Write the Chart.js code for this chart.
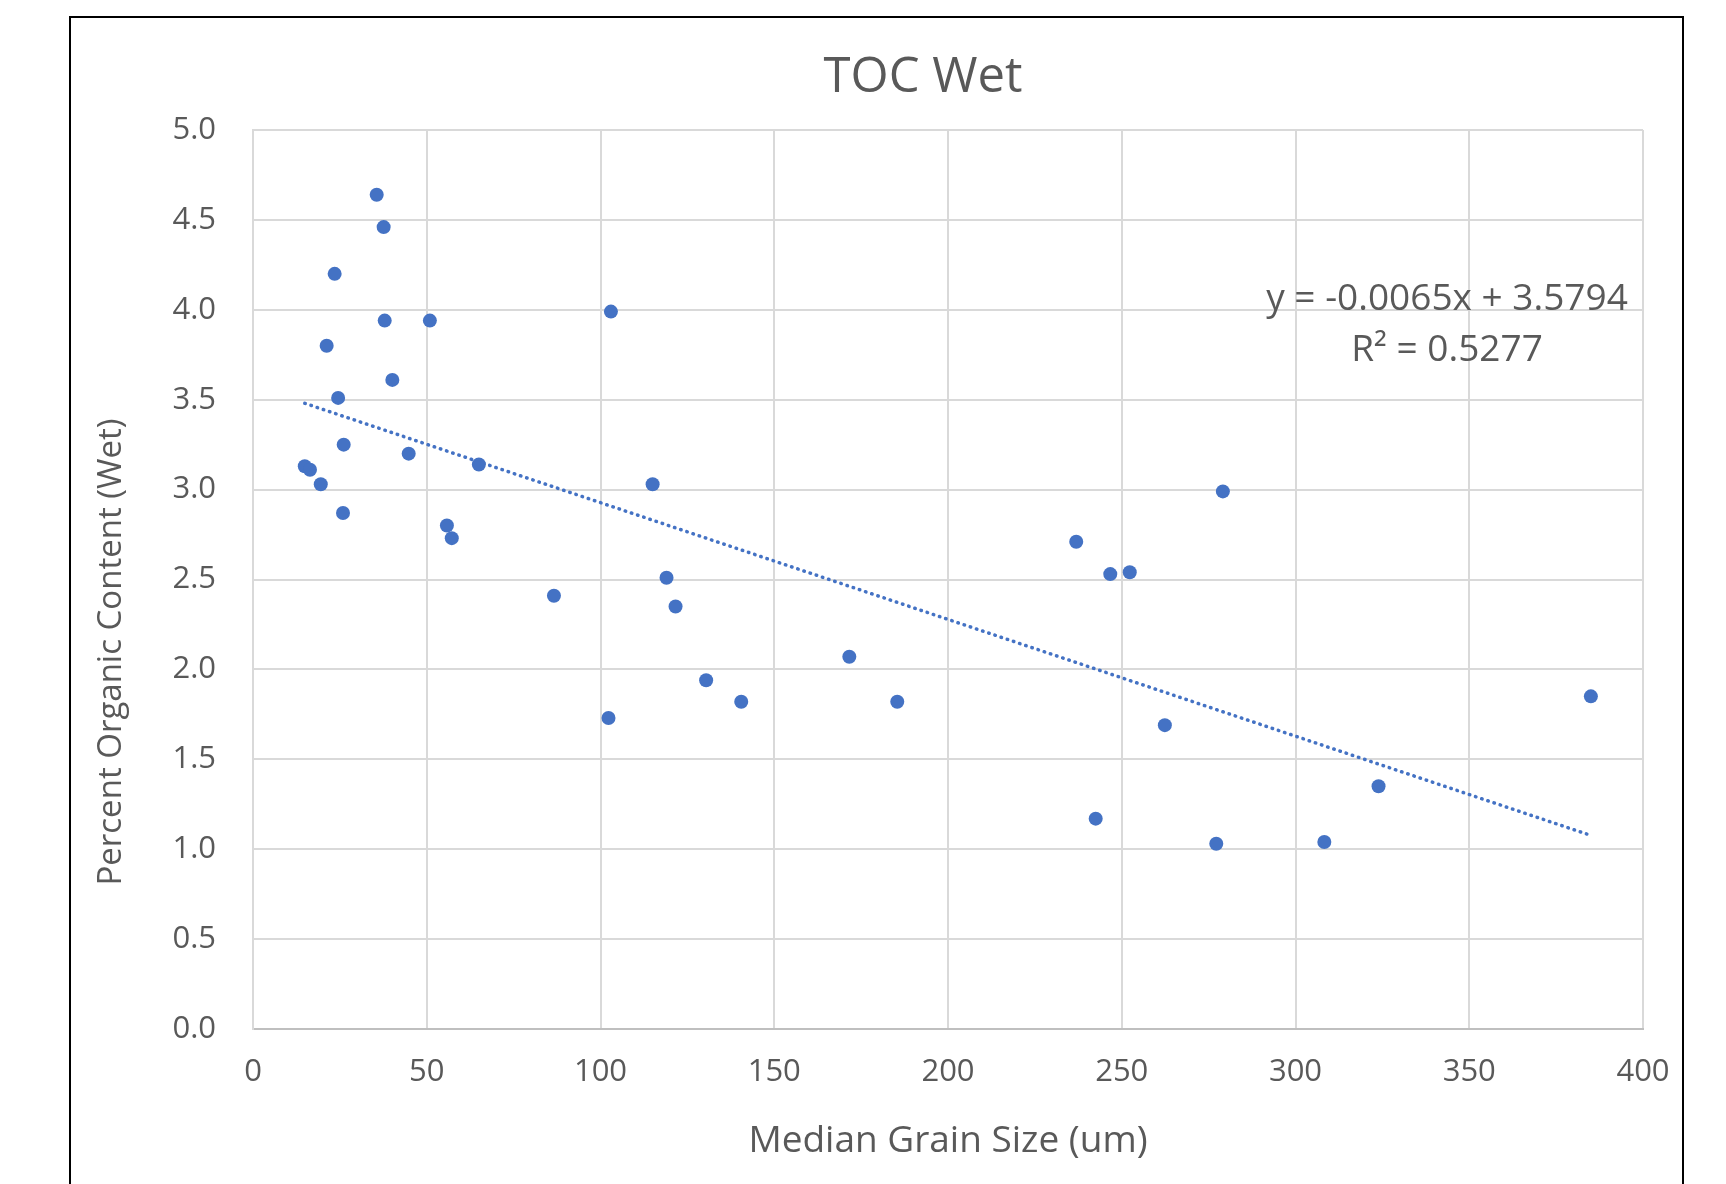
<!DOCTYPE html>
<html>
<head>
<meta charset="utf-8">
<title>TOC Wet</title>
<script src="https://cdn.jsdelivr.net/npm/chart.js@4"></script>
<style>
  html, body { margin: 0; padding: 0; background: #fff; overflow: hidden; }
  #wrap { position: relative; width: 1726px; height: 1184px; }
  #frame { position: absolute; left: 69px; top: 16px; width: 1611px; height: 1300px; border: 2px solid #000; pointer-events: none; }
</style>
</head>
<body>
<div id="wrap">
  <canvas id="tocChart"></canvas>
  <div id="frame"></div>
</div>
<script>
// median grain size (um) and percent organic content
const grainSize = [35.6, 37.6, 23.5, 37.9, 50.9, 103.0, 21.2, 40.1, 24.5, 26.1, 44.8, 14.9, 16.4, 65.0, 19.5, 115.0, 25.9, 55.8, 57.2,
  119.0, 86.6, 121.6, 171.6, 130.4, 140.5, 102.3, 185.4, 279.1, 236.9, 246.7, 252.3, 262.4, 385.0, 323.9, 242.5, 277.2, 308.3];
const organicWet = [4.64, 4.46, 4.20, 3.94, 3.94, 3.99, 3.80, 3.61, 3.51, 3.25, 3.20, 3.13, 3.11, 3.14, 3.03, 3.03, 2.87, 2.80, 2.73,
  2.51, 2.41, 2.35, 2.07, 1.94, 1.82, 1.73, 1.82, 2.99, 2.71, 2.53, 2.54, 1.69, 1.85, 1.35, 1.17, 1.03, 1.04];

// linear trendline end points
const trendX = [14.9, 384.5];
const trendY = [3.48, 1.08];

const chartTitle = 'TOC Wet';
const xTitle = 'Median Grain Size (um)';
const yTitle = 'Percent Organic Content (Wet)';
const equation = ['y = -0.0065x + 3.5794', 'R\u00b2 = 0.5277'];

const blue = '#4472C4';
const textColor = '#595959';
const gridColor = '#d9d9d9';
const fontFamily = '"Open Sans", "Noto Sans", sans-serif';

function toPoints(xs, ys) {
  return xs.map((x, i) => ({ x: x, y: ys[i] }));
}

// title, y axis title and trendline label placed like the Excel original
const labelPlugin = {
  id: 'tocLabels',
  afterDraw(chart) {
    const ctx = chart.ctx;
    ctx.save();
    ctx.fillStyle = textColor;
    ctx.textAlign = 'center';
    ctx.textBaseline = 'alphabetic';

    ctx.font = '49px ' + fontFamily;
    ctx.fillText(chartTitle, 923, 92);

    ctx.font = '37px ' + fontFamily;
    ctx.fillText(equation[0], 1447, 310);
    ctx.fillText(equation[1], 1447, 361);

    ctx.translate(112, 652);
    ctx.rotate(-Math.PI / 2);
    ctx.textBaseline = 'middle';
    ctx.font = '33px ' + fontFamily;
    ctx.fillText(yTitle, 0, 0);
    ctx.restore();
  }
};

const ctx = document.getElementById('tocChart').getContext('2d');

const tocChart = new Chart(ctx, {
  type: 'scatter',
  data: {
    datasets: [
      {
        label: 'TOC Wet',
        data: toPoints(grainSize, organicWet),
        backgroundColor: blue,
        borderWidth: 0,
        pointRadius: 7,
        pointHoverRadius: 7
      },
      {
        label: 'Linear',
        type: 'line',
        data: toPoints(trendX, trendY),
        borderColor: blue,
        borderWidth: 3.5,
        borderDash: [0.5, 6],
        borderCapStyle: 'round',
        pointRadius: 0,
        fill: false
      }
    ]
  },
  options: {
    responsive: true,
    maintainAspectRatio: false,
    animation: false,
    layout: {
      padding: { left: 70, right: 83, top: 130, bottom: 0 }
    },
    plugins: {
      legend: { display: false },
      tooltip: { enabled: false },
      title: { display: false }
    },
    scales: {
      x: {
        type: 'linear',
        min: 0,
        max: 400,
        ticks: {
          stepSize: 50,
          color: textColor,
          font: { family: fontFamily, size: 31 },
          padding: 25
        },
        grid: { color: gridColor, lineWidth: 2, drawTicks: false },
        border: { color: '#bfbfbf', width: 2 },
        title: {
          display: true,
          text: xTitle,
          color: textColor,
          font: { family: fontFamily, size: 37 },
          padding: { top: 0, bottom: 20 }
        },
        afterFit(scale) {
          scale.height = 155;
        }
      },
      y: {
        min: 0,
        max: 5,
        ticks: {
          stepSize: 0.5,
          color: textColor,
          font: { family: fontFamily, size: 31 },
          padding: 37,
          callback: v => v.toFixed(1)
        },
        grid: { color: gridColor, lineWidth: 2, drawTicks: false },
        border: { color: gridColor, width: 2 },
        afterFit(scale) {
          scale.width = 183;
        }
      }
    }
  },
  plugins: [labelPlugin]
});
</script>
</body>
</html>
